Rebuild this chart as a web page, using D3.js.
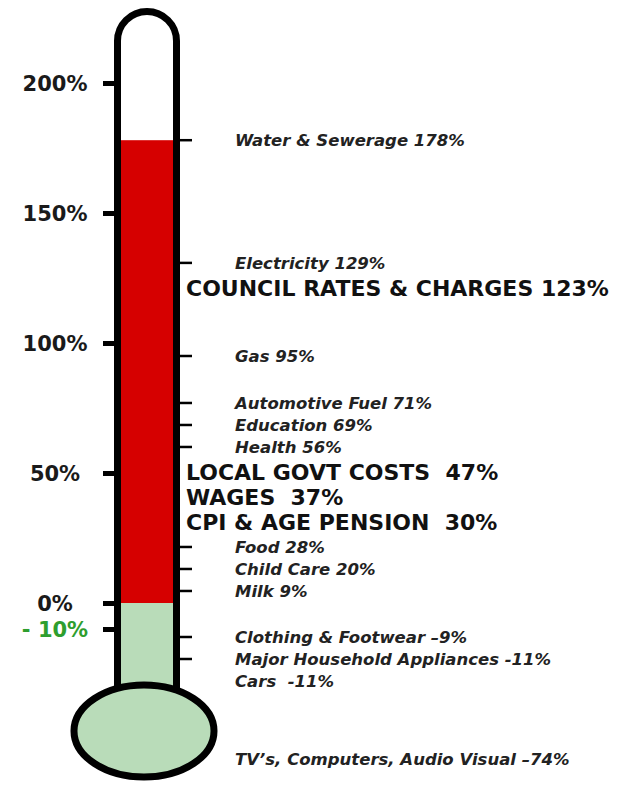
<!DOCTYPE html>
<html>
<head>
<meta charset="utf-8">
<script src="https://cdn.jsdelivr.net/npm/d3@7"></script>
<style>
  body { margin: 0; background: #fff; }
  svg { display: block; }
  .lbl { white-space: pre; }
</style>
</head>
<body>
<div id="chart"></div>
<script>
// price change items, top to bottom
const categories = [
  "Water & Sewerage", "Electricity", "COUNCIL RATES & CHARGES", "Gas",
  "Automotive Fuel", "Education", "Health", "LOCAL GOVT COSTS", "WAGES",
  "CPI & AGE PENSION", "Food", "Child Care", "Milk", "Clothing & Footwear",
  "Major Household Appliances", "Cars", "TV\u2019s, Computers, Audio Visual"
];
const changes = [178, 129, 123, 95, 71, 69, 56, 47, 37, 30, 28, 20, 9, -9, -11, -11, -74];
// label text as printed on the chart
const labels = [
  "Water & Sewerage 178%", "Electricity 129%", "COUNCIL RATES & CHARGES 123%",
  "Gas 95%", "Automotive Fuel 71%", "Education 69%", "Health 56%",
  "LOCAL GOVT COSTS  47%", "WAGES  37%", "CPI & AGE PENSION  30%",
  "Food 28%", "Child Care 20%", "Milk 9%", "Clothing & Footwear \u20139%",
  "Major Household Appliances -11%", "Cars  -11%",
  "TV\u2019s, Computers, Audio Visual \u201374%"
];
const highlighted = [false, false, true, false, false, false, false, true, true, true,
  false, false, false, false, false, false, false];
const axisTicks = [-10, 0, 50, 100, 150, 200];

const width = 621;
const height = 785;

const svg = d3.select("#chart")
  .append("svg")
  .attr("width", width)
  .attr("height", height);

// vertical scale along the thermometer tube
const yScale = d3.scaleLinear().domain([0, 200]).range([603, 83]);

// tube geometry
const tubeLeft = 114, tubeRight = 180, stroke = 7;
const tubeBottom = 688;
const r = (tubeRight - tubeLeft - stroke) / 2;
const cx = (tubeLeft + tubeRight) / 2;
const topY = 8 + stroke / 2 + r;
const xl = tubeLeft + stroke / 2, xr = tubeRight - stroke / 2;

const red = "#d60000";
const green = "#b9dcb9";

// tube interior
svg.append("path")
  .attr("d", `M${xl},${tubeBottom} L${xl},${topY} A${r},${r} 0 0 1 ${xr},${topY} L${xr},${tubeBottom} Z`)
  .attr("fill", "#fff");

const maxVal = d3.max(changes);

// red column: positive increases up to the largest
svg.append("rect")
  .attr("x", xl)
  .attr("width", xr - xl)
  .attr("y", yScale(maxVal))
  .attr("height", yScale(0) - yScale(maxVal))
  .attr("fill", red);

// green column: below zero down to the bulb
svg.append("rect")
  .attr("x", xl)
  .attr("width", xr - xl)
  .attr("y", yScale(0))
  .attr("height", tubeBottom + 10 - yScale(0))
  .attr("fill", green);

// tube outline
svg.append("path")
  .attr("d", `M${xl},${tubeBottom} L${xl},${topY} A${r},${r} 0 0 1 ${xr},${topY} L${xr},${tubeBottom}`)
  .attr("fill", "none")
  .attr("stroke", "#000")
  .attr("stroke-width", stroke);

// bulb
svg.append("ellipse")
  .attr("cx", cx - 3)
  .attr("cy", 731)
  .attr("rx", 70)
  .attr("ry", 46)
  .attr("fill", green)
  .attr("stroke", "#000")
  .attr("stroke-width", stroke);

// left axis
const axis = svg.append("g")
  .attr("transform", `translate(${tubeLeft},0)`)
  .call(d3.axisLeft(yScale)
    .tickValues(axisTicks)
    .tickSize(11)
    .tickFormat(d => d < 0 ? "- " + (-d) + "%" : d + "%"));

axis.select(".domain").remove();
axis.selectAll(".tick line")
  .attr("stroke", "#000")
  .attr("stroke-width", 5);
axis.selectAll(".tick text")
  .attr("x", -59)
  .attr("dy", "0.35em")
  .attr("text-anchor", "middle")
  .attr("font-family", "DejaVu Sans, sans-serif")
  .attr("font-weight", "bold")
  .attr("font-size", 21)
  .attr("fill", d => d < 0 ? "#2e9e2e" : "#1a1a1a");

// label layout: start at the value, then push apart so nothing overlaps
const items = categories.map((c, i) => ({
  name: c,
  value: changes[i],
  text: labels[i],
  bold: highlighted[i],
  y: yScale(changes[i])
}));

const floorNeg = yScale(-10) + 8;
const maxY = height - 26;

for (let k = 0; k < 400; k++) {
  for (let i = 1; i < items.length; i++) {
    const a = items[i - 1], b = items[i];
    const gap = (a.bold || b.bold) ? 25 : 22;
    const over = gap - (b.y - a.y);
    if (over > 0) {
      a.y -= over / 2;
      b.y += over / 2;
    }
  }
  items.forEach(d => {
    if (d.value < 0) d.y = Math.max(d.y, floorNeg);
    d.y = Math.min(d.y, maxY);
  });
}

// small pointer ticks on the right of the tube
const seen = new Set();
const tickItems = items.filter(d => {
  if (d.bold || d.y > tubeBottom || seen.has(d.value)) return false;
  seen.add(d.value);
  return true;
});

svg.selectAll(".rtick")
  .data(tickItems)
  .enter()
  .append("line")
  .attr("class", "rtick")
  .attr("x1", tubeRight - 1)
  .attr("x2", tubeRight + 12)
  .attr("y1", d => d.y)
  .attr("y2", d => d.y)
  .attr("stroke", "#000")
  .attr("stroke-width", 2.5);

svg.selectAll(".lbl")
  .data(items)
  .enter()
  .append("text")
  .attr("class", "lbl")
  .attr("xml:space", "preserve")
  .attr("x", d => d.bold ? 186 : 235)
  .attr("y", d => d.y)
  .attr("dy", "0.36em")
  .attr("font-family", "DejaVu Sans, sans-serif")
  .attr("font-weight", "bold")
  .attr("font-style", d => d.bold ? "normal" : "italic")
  .attr("font-size", d => d.bold ? 22 : 16.5)
  .attr("fill", d => d.bold ? "#111" : "#222")
  .text(d => d.text);
</script>
</body>
</html>
